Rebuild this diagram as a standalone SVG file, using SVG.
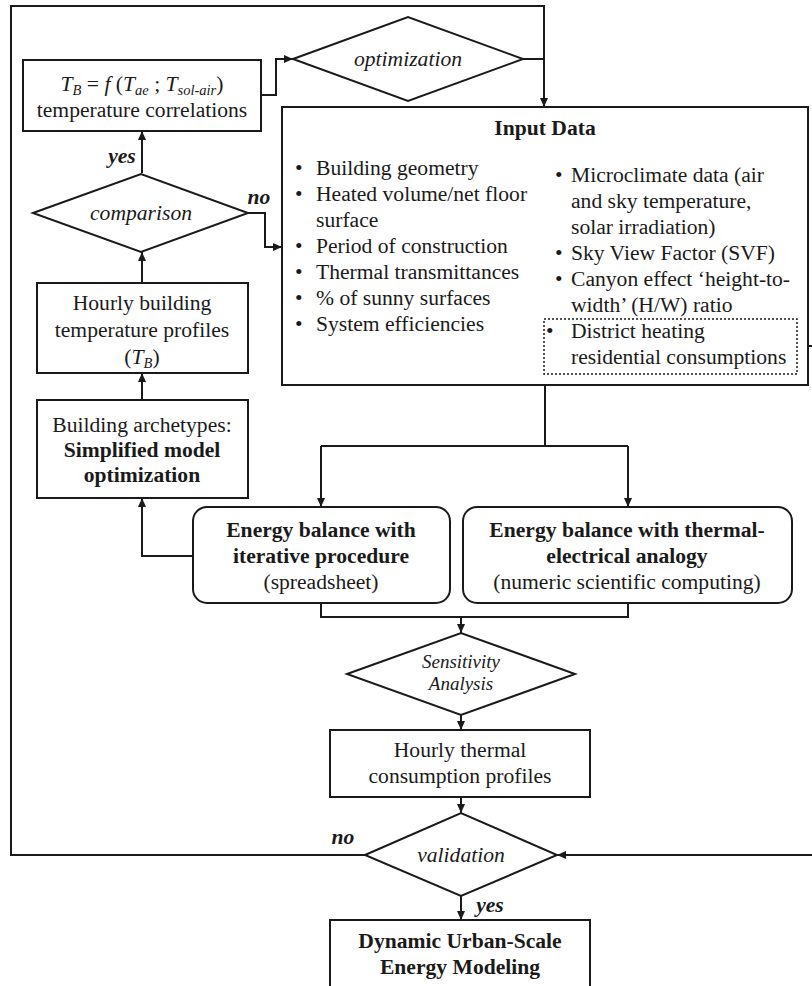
<svg xmlns="http://www.w3.org/2000/svg" width="812" height="986" viewBox="0 0 812 986">
<style>
.box{fill:#fff;stroke:#1a1a1a;stroke-width:2}
.dot{fill:none;stroke:#1a1a1a;stroke-width:1.5;stroke-dasharray:2,2}
.conn{fill:none;stroke:#1a1a1a;stroke-width:2}
text{font-family:'Liberation Serif','Times New Roman',serif;font-size:21.6px;fill:#1a1a1a}
.c{text-anchor:middle}
.b{font-weight:bold}
.i{font-style:italic}
.sub{font-size:14.5px}
.sm{font-size:19px}
</style>
<defs>
<marker id="arr" markerUnits="userSpaceOnUse" markerWidth="9" markerHeight="8" refX="9" refY="4" orient="auto">
<path d="M0,0 L9,4 L0,8 z" fill="#1a1a1a"/>
</marker>
</defs>
<rect width="812" height="986" fill="#fff"/>
<g id="connectors">
<path class="conn" d="M365,855 H11 V6 H544 V107" marker-end="url(#arr)"/>
<path class="conn" d="M523,59 H544"/>
<path class="conn" d="M261,95 H276 V59 H293" marker-end="url(#arr)"/>
<path class="conn" d="M142,173 V131" marker-end="url(#arr)"/>
<path class="conn" d="M248,213 H265 V247 H282" marker-end="url(#arr)"/>
<path class="conn" d="M142,283 V252" marker-end="url(#arr)"/>
<path class="conn" d="M142,400 V373" marker-end="url(#arr)"/>
<path class="conn" d="M193,556 H142 V498" marker-end="url(#arr)"/>
<path class="conn" d="M545,385 V446"/>
<path class="conn" d="M321,446 H628"/>
<path class="conn" d="M321,446 V507" marker-end="url(#arr)"/>
<path class="conn" d="M628,446 V507" marker-end="url(#arr)"/>
<path class="conn" d="M321,603 V617 H628 V603"/>
<path class="conn" d="M461,617 V633" marker-end="url(#arr)"/>
<path class="conn" d="M461,715 V730" marker-end="url(#arr)"/>
<path class="conn" d="M461,797 V813" marker-end="url(#arr)"/>
<path class="conn" d="M461,896 V920" marker-end="url(#arr)"/>
<path class="conn" d="M797,346 H815 V855 H557" marker-end="url(#arr)"/>
<text class="b i" x="122" y="163" text-anchor="middle">yes</text>
<text class="b i" x="259" y="204" text-anchor="middle">no</text>
<text class="b i" x="343" y="844" text-anchor="middle">no</text>
<text class="b i" x="490" y="912" text-anchor="middle">yes</text>
</g>
<g id="tb-correlations">
<rect class="box" x="23" y="60" width="238" height="71"/>
<text class="c" x="142" y="91"><tspan class="i">T</tspan><tspan class="i sub" dy="4">B</tspan><tspan dy="-4"> = </tspan><tspan class="i">f </tspan><tspan>(</tspan><tspan class="i">T</tspan><tspan class="i sub" dy="4">ae</tspan><tspan dy="-4"> ; </tspan><tspan class="i">T</tspan><tspan class="i sub" dy="4">sol-air</tspan><tspan dy="-4">)</tspan></text>
<text class="c" x="142" y="117">temperature correlations</text>
</g>
<g id="optimization">
<polygon class="box" points="293,59 408,17 523,59 408,101"/>
<text class="c i" x="408" y="66">optimization</text>
</g>
<g id="comparison">
<polygon class="box" points="33,213 141,174 248,213 141,252"/>
<text class="c i" x="141" y="220">comparison</text>
</g>
<g id="input-data">
<rect class="box" x="282" y="107" width="526" height="278"/>
<text class="c b" x="545" y="135">Input Data</text>
<text x="295" y="175">•</text><text x="316" y="175">Building geometry</text>
<text x="295" y="201">•</text><text x="316" y="201">Heated volume/net floor</text>
<text x="316" y="227">surface</text>
<text x="295" y="253">•</text><text x="316" y="253">Period of construction</text>
<text x="295" y="279">•</text><text x="316" y="279">Thermal transmittances</text>
<text x="295" y="305">•</text><text x="316" y="305">% of sunny surfaces</text>
<text x="295" y="331">•</text><text x="316" y="331">System efficiencies</text>
<text x="555" y="182">•</text><text x="571" y="182">Microclimate data (air</text>
<text x="571" y="208">and sky temperature,</text>
<text x="571" y="234">solar irradiation)</text>
<text x="555" y="260">•</text><text x="571" y="260">Sky View Factor (SVF)</text>
<text x="555" y="286">•</text><text x="571" y="286">Canyon effect ‘height-to-</text>
<text x="571" y="312">width’ (H/W) ratio</text>
<rect class="dot" x="544" y="319" width="253" height="55"/>
<text x="546" y="338">•</text><text x="571" y="338">District heating</text>
<text x="571" y="364">residential consumptions</text>
</g>
<g id="hourly-building">
<rect class="box" x="37" y="283" width="211" height="90"/>
<text class="c" x="142" y="310">Hourly building</text>
<text class="c" x="142" y="337">temperature profiles</text>
<text class="c" x="142" y="364">(<tspan class="i">T</tspan><tspan class="i sub" dy="4">B</tspan><tspan dy="-4">)</tspan></text>
</g>
<g id="archetypes">
<rect class="box" x="37" y="400" width="211" height="98"/>
<text class="c" x="142" y="432">Building archetypes:</text>
<text class="c b" x="142" y="457">Simplified model</text>
<text class="c b" x="142" y="482">optimization</text>
</g>
<g id="energy-iterative">
<rect class="box" x="193" y="507" width="257" height="96" rx="14"/>
<text class="c b" x="321" y="537">Energy balance with</text>
<text class="c b" x="321" y="563">iterative procedure</text>
<text class="c" x="321" y="589">(spreadsheet)</text>
</g>
<g id="energy-thermal">
<rect class="box" x="463" y="507" width="329" height="96" rx="14"/>
<text class="c b" x="627" y="537">Energy balance with thermal-</text>
<text class="c b" x="627" y="563">electrical analogy</text>
<text class="c" x="627" y="589">(numeric scientific computing)</text>
</g>
<g id="sensitivity">
<polygon class="box" points="347,674 461,633 575,674 461,715"/>
<text class="c i sm" x="461" y="668">Sensitivity</text>
<text class="c i sm" x="461" y="690">Analysis</text>
</g>
<g id="hourly-thermal">
<rect class="box" x="330" y="730" width="260" height="67"/>
<text class="c" x="460" y="757">Hourly thermal</text>
<text class="c" x="460" y="783">consumption profiles</text>
</g>
<g id="validation">
<polygon class="box" points="365,855 461,813 557,855 461,896"/>
<text class="c i" x="461" y="862">validation</text>
</g>
<g id="urban-modeling">
<rect class="box" x="330" y="920" width="260" height="80"/>
<text class="c b" x="460" y="948">Dynamic Urban-Scale</text>
<text class="c b" x="460" y="974">Energy Modeling</text>
</g>
</svg>
